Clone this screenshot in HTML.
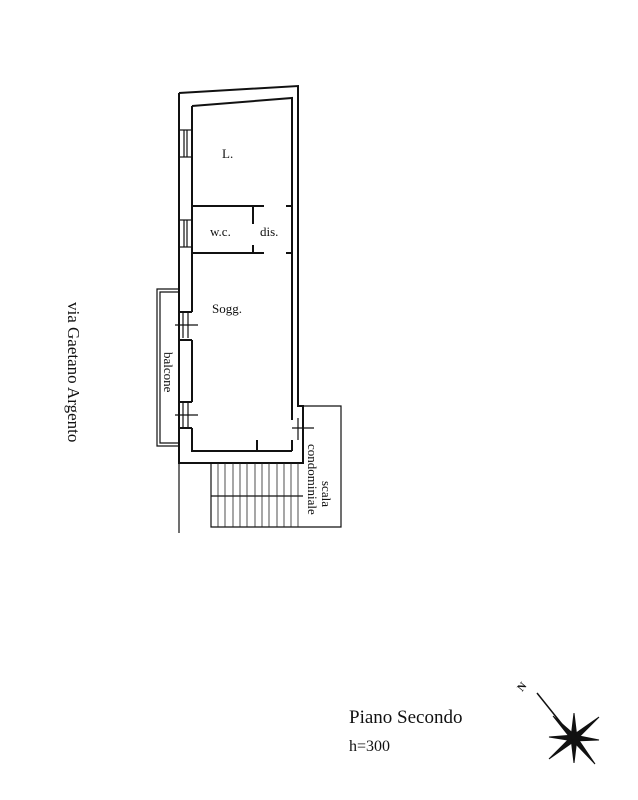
<!DOCTYPE html>
<html><head><style>
html,body{margin:0;padding:0;background:#fff;}
svg{display:block;}
text{font-family:"Liberation Serif",serif;fill:#111;}
</style></head><body>
<svg width="638" height="800" viewBox="0 0 638 800" xmlns="http://www.w3.org/2000/svg">
<g stroke="#111" stroke-width="2" fill="none">
<polyline points="179,93 298,86 298,406 303,406 303,463 179,463 179,93"/>
<polyline points="192,106 292,98 292,406"/>
<polyline points="192,106 192,206 264,206"/>
<line x1="192" y1="206" x2="192" y2="312"/>
<line x1="192" y1="253" x2="264" y2="253"/>
<line x1="253" y1="206" x2="253" y2="224"/>
<line x1="253" y1="245" x2="253" y2="253"/>
<line x1="286" y1="206" x2="292" y2="206"/>
<line x1="286" y1="253" x2="292" y2="253"/>
<line x1="292" y1="406" x2="292" y2="420"/>
<line x1="292" y1="440" x2="292" y2="451"/>
<polyline points="192,312 179,312"/>
<polyline points="192,340 192,402"/>
<polyline points="179,340 192,340"/>
<polyline points="179,402 192,402"/>
<polyline points="192,428 192,451 292,451"/>
<line x1="179" y1="428" x2="192" y2="428"/>
<line x1="257" y1="440" x2="257" y2="451"/>
</g>
<g stroke="#111" stroke-width="1.2" fill="none">
<line x1="179" y1="130" x2="192" y2="130"/><line x1="179" y1="157" x2="192" y2="157"/>
<line x1="184" y1="130" x2="184" y2="157"/><line x1="187" y1="130" x2="187" y2="157"/>
<line x1="179" y1="220" x2="192" y2="220"/><line x1="179" y1="247" x2="192" y2="247"/>
<line x1="184" y1="220" x2="184" y2="247"/><line x1="187" y1="220" x2="187" y2="247"/>
<line x1="175" y1="325" x2="198" y2="325"/><line x1="183" y1="313" x2="183" y2="338"/><line x1="188" y1="313" x2="188" y2="338"/>
<line x1="175" y1="415" x2="198" y2="415"/><line x1="183" y1="403" x2="183" y2="427"/><line x1="188" y1="403" x2="188" y2="427"/>
<line x1="292" y1="428" x2="314" y2="428"/><line x1="298" y1="418" x2="298" y2="440"/>
<polyline points="179,289 157,289 157,446 179,446"/>
<polyline points="179,292 160,292 160,443 179,443"/>
<polyline points="303,406 341,406 341,527 211,527 211,463"/>
<line x1="179" y1="463" x2="179" y2="533"/>
<line x1="211" y1="496" x2="303" y2="496"/>
</g>
<g stroke="#222" stroke-width="0.8">
<line x1="218" y1="463" x2="218" y2="527"/><line x1="225" y1="463" x2="225" y2="527"/>
<line x1="233" y1="463" x2="233" y2="527"/><line x1="240" y1="463" x2="240" y2="527"/>
<line x1="247" y1="463" x2="247" y2="527"/><line x1="255" y1="463" x2="255" y2="527"/>
<line x1="262" y1="463" x2="262" y2="527"/><line x1="269" y1="463" x2="269" y2="527"/>
<line x1="277" y1="463" x2="277" y2="527"/><line x1="284" y1="463" x2="284" y2="527"/>
<line x1="291" y1="463" x2="291" y2="527"/><line x1="298" y1="463" x2="298" y2="527"/>
</g>
<text x="222" y="158" font-size="13">L.</text>
<text x="210" y="236" font-size="13">w.c.</text>
<text x="260" y="236" font-size="13">dis.</text>
<text x="212" y="313" font-size="13">Sogg.</text>
<text transform="translate(164,352) rotate(90)" font-size="13">balcone</text>
<text transform="translate(322,481) rotate(90)" font-size="13">scala</text>
<text transform="translate(308,444) rotate(90)" font-size="13">condominiale</text>
<text transform="translate(68,302) rotate(90)" font-size="17">via Gaetano Argento</text>
<text x="349" y="723" font-size="19">Piano Secondo</text>
<text x="349" y="751" font-size="16">h=300</text>
<g fill="#111" stroke="#111" stroke-width="1">
<line x1="537" y1="693" x2="573" y2="738" stroke-width="1.5"/>
<polygon points="574,713 571,738 577,738"/>
<polygon points="574,763 571,738 577,738"/>
<polygon points="549,737 574,735 574,741"/>
<polygon points="599,740 574,735 574,741"/>
<polygon points="599,717 572,736 576,740"/>
<polygon points="549,759 572,736 576,740"/>
<polygon points="595,764 572,740 576,736"/>
<polygon points="553,716 572,740 576,736"/>
</g>
<text transform="translate(522,692) rotate(-50)" font-size="11" font-weight="bold">N</text>
</svg>
</body></html>
